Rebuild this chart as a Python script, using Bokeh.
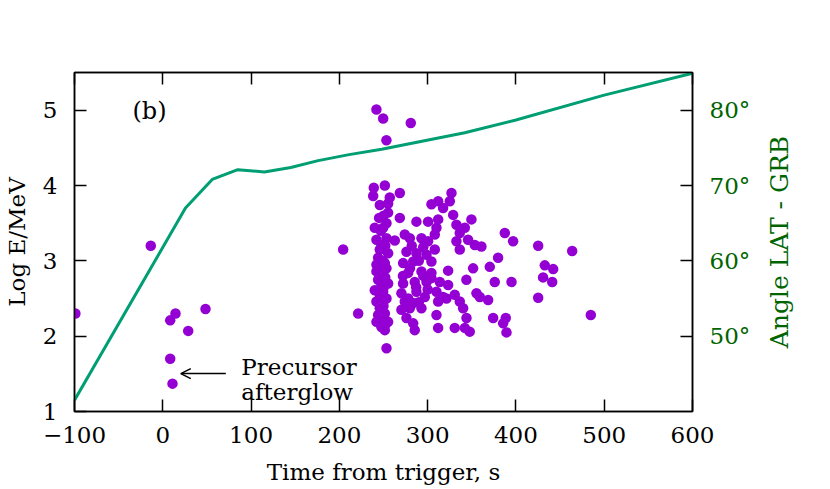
from bokeh.plotting import figure
from bokeh.layouts import row
from bokeh.models import (Range1d, LinearAxis, FixedTicker, Label, Arrow, OpenHead,
                          PrintfTickFormatter)
from bokeh.embed import file_html
from bokeh.resources import INLINE

# ---- data ----
time_s = [
    -99, -13.6, 14.4, 8.4, 48.4, 28.8, 8.4, 11,
    242.0, 249.6, 253.3, 280.9,
    204.3, 221.3, 253.4,
    239.0, 238.3, 251.5, 268.5, 257.1, 245.8, 255.2, 255.2, 245.0, 268.5, 240.1, 253.4, 249.6,
    242.0, 253.4, 262.8, 245.8, 255.2, 243.9, 251.5, 242.0, 253.4, 243.9, 255.2, 240.1, 249.6,
    242.0, 253.4, 245.8, 251.5, 242.0, 255.2, 251.5,
    247.7, 242.0, 249.6, 247.7, 245.8, 243.9, 247.7,
    250, 247, 252, 249, 246, 252, 250, 247, 250, 246, 252,
    287.3, 300.5, 304.3, 311.9, 327.0, 325.1, 317.5, 328.9, 311.9, 310.0, 308.1, 274.1, 279.8,
    293.0, 300.5, 308.1, 276.0, 287.3, 298.7, 272.2, 283.6, 304.3, 277.9, 293.0, 304.3, 272.2,
    285.4, 298.7, 304.3, 270.3, 287.3, 296.8, 274.1, 283.6, 293.0, 270.3, 279.8, 276.0, 283.6,
    285.4, 310.0, 311.9, 313.8, 323.2, 323.2, 310.0, 317.5, 311.9, 321.3, 330.7, 336.4, 340.2,
    344.0, 347.7, 330.7, 342.1, 332.6, 342.1, 336.4, 349.6, 332.6, 336.4, 345.8, 353.4, 360.9,
    351.5, 343.9, 355.3, 359.1, 368.5, 370.4, 379.8, 376.0, 387.4, 396.8, 395.0, 374.2, 388.5,
    385.5, 389.3,
    290, 280, 295, 287, 278, 290, 300, 282, 295, 272,
    425.2, 463.7, 432.7, 442.2, 430.8, 441.1, 425.2, 484.8,
]
log_e = [
    2.30, 3.20, 2.30, 2.21, 2.36, 2.07, 1.70, 1.37,
    5.01, 4.89, 4.60, 4.83,
    3.15, 2.30, 1.84,
    3.97, 3.86, 4.00, 3.90, 3.84, 3.74, 3.76, 3.64, 3.57, 3.57, 3.44, 3.50, 3.44,
    3.28, 3.30, 3.27, 3.15, 3.10, 3.04, 2.97, 2.86, 2.90, 2.75, 2.70, 2.61, 2.59,
    2.46, 2.50, 2.37, 2.30, 2.19, 2.19, 2.08,
    3.21, 2.95, 2.81, 2.68, 2.55, 2.28, 2.12,
    3.60, 3.40, 3.20, 3.00, 2.90, 2.78, 2.64, 2.50, 2.40, 2.25, 2.15,
    3.52, 3.52, 3.75, 3.79, 3.90, 3.79, 3.70, 3.61, 3.55, 3.44, 3.35, 3.35, 3.30,
    3.30, 3.26, 3.15, 3.12, 3.10, 3.08, 2.97, 2.99, 2.99, 2.84, 2.86, 2.84, 2.70,
    2.72, 2.72, 2.77, 2.57, 2.59, 2.52, 2.46, 2.44, 2.37, 2.35, 2.37, 2.24, 2.17,
    2.08, 2.28, 2.11, 2.72, 2.68, 2.87, 2.59, 2.52, 2.46, 2.50, 2.55, 2.46, 2.37,
    2.24, 2.06, 2.11, 2.11, 3.48, 3.44, 3.37, 3.55, 3.26, 3.15, 3.28, 3.21, 3.19,
    2.90, 2.75, 2.57, 2.52, 2.48, 2.92, 3.04, 2.72, 3.37, 3.26, 2.72, 2.24, 2.24,
    2.17, 2.05,
    3.00, 2.90, 2.80, 2.65, 2.50, 2.45, 2.62, 3.20, 3.18, 2.80,
    3.20, 3.13, 2.94, 2.89, 2.78, 2.72, 2.51, 2.28,
]
angle_t = [-100, 25.7, 56, 85, 115, 145, 176, 211, 248, 342, 400, 500, 600]
angle_deg = [41.5, 67.0, 70.8, 72.1, 71.8, 72.4, 73.3, 74.1, 74.8, 77.0, 78.7, 82.0, 84.9]

x_ticks = [-100, 0, 100, 200, 300, 400, 500, 600]
y_ticks = [1, 2, 3, 4, 5]
angle_ticks = [50, 60, 70, 80]

FONT = "DejaVu Serif"
FS = "23px"
GREEN_TXT = "#006400"

p = figure(frame_width=618, frame_height=339,
           min_border_left=71, min_border_right=70, min_border_top=72, min_border_bottom=66,
           x_range=Range1d(-100, 600), y_range=Range1d(1, 5.5),
           output_backend="svg", toolbar_location=None)
p.extra_y_ranges = {"angle": Range1d(40, 85)}
p.grid.visible = False
p.outline_line_color = "black"
p.outline_line_width = 1.5
p.background_fill_color = "white"
p.border_fill_color = "white"

def style(ax, label_color="black"):
    ax.major_tick_in = 12
    ax.major_tick_out = 0
    ax.minor_tick_in = 0
    ax.minor_tick_out = 0
    ax.axis_line_width = 1.5
    ax.major_tick_line_width = 1.5
    ax.major_label_text_font = FONT
    ax.major_label_text_font_size = FS
    ax.major_label_text_color = label_color
    ax.axis_label_text_font = FONT
    ax.axis_label_text_font_size = FS
    ax.axis_label_text_font_style = "normal"
    ax.axis_label_text_color = label_color

xa = p.xaxis[0]
style(xa)
xa.ticker = FixedTicker(ticks=x_ticks)
xa.major_label_overrides = {-100: "\u2212100"}
xa.axis_label = "Time from trigger, s"
xa.major_label_standoff = 15
xa.axis_label_standoff = 13

ya = p.yaxis[0]
style(ya)
ya.ticker = FixedTicker(ticks=y_ticks)
ya.axis_label = "Log E/MeV"
ya.major_label_standoff = 17
ya.axis_label_standoff = 10

top = LinearAxis(ticker=FixedTicker(ticks=x_ticks))
style(top)
top.major_label_text_font_size = "0px"
top.major_label_text_color = None
p.add_layout(top, "above")

ra = LinearAxis(y_range_name="angle", ticker=FixedTicker(ticks=angle_ticks),
                formatter=PrintfTickFormatter(format="%d\u00b0"))
style(ra, GREEN_TXT)
ra.major_label_standoff = 17
p.add_layout(ra, "right")

p.line(angle_t, angle_deg, y_range_name="angle", line_color="#009e73", line_width=3)
p.scatter(time_s, log_e, size=10.5, fill_color="#9400d3", line_color="#9400d3", line_width=0)

p.add_layout(Label(x=-15, y=4.99, text="(b)", text_font=FONT, text_font_size="24px",
                   text_color="black", text_align="center", text_baseline="middle"))
p.add_layout(Label(x=89, y=1.59, text="Precursor", text_font=FONT, text_font_size=FS,
                   text_color="black", text_align="left", text_baseline="alphabetic"))
p.add_layout(Label(x=89, y=1.255, text="afterglow", text_font=FONT, text_font_size=FS,
                   text_color="black", text_align="left", text_baseline="alphabetic"))
p.add_layout(Arrow(x_start=71.4, y_start=1.503, x_end=20.4, y_end=1.503,
                   line_width=1.5, end=OpenHead(size=10, line_width=1.5)))

# narrow companion panel carrying the right-axis title, reading bottom-to-top
p2 = figure(frame_width=34, frame_height=339,
            min_border_left=0, min_border_right=0, min_border_top=72, min_border_bottom=66,
            x_range=Range1d(0, 1), y_range=Range1d(0, 1),
            output_backend="svg", toolbar_location=None)
p2.axis.visible = False
p2.grid.visible = False
p2.outline_line_color = None
p2.background_fill_color = "white"
p2.border_fill_color = "white"
p2.add_layout(Label(x=0.5, y=0.5, text="Angle LAT - GRB", text_font=FONT, text_font_size="25px",
                    text_color=GREEN_TXT, text_align="center", text_baseline="middle",
                    angle=90, angle_units="deg"))

layout = row(p, p2, spacing=0)
open("out.html", "w").write(file_html(layout, INLINE))
